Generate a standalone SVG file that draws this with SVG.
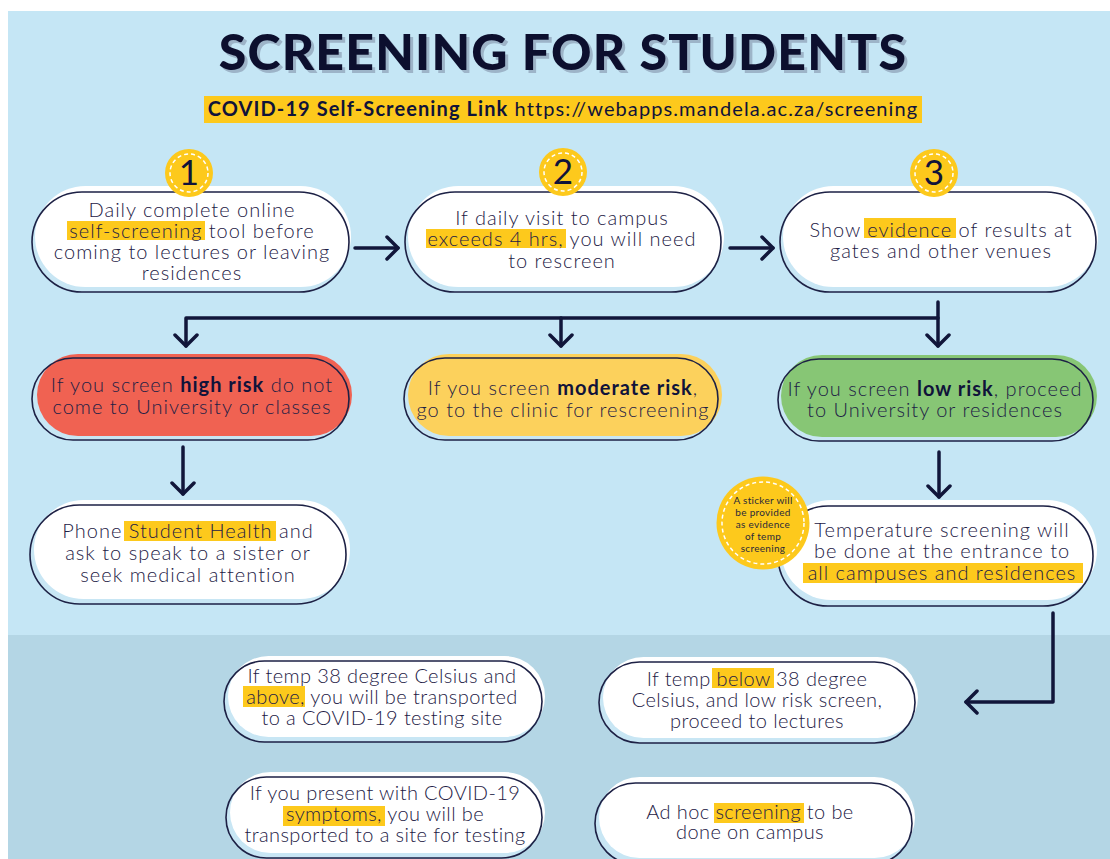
<svg xmlns="http://www.w3.org/2000/svg" width="1110" height="859" viewBox="0 0 1110 859">
<defs>
<style>
.t{font-family:Lato,"Noto Sans","Liberation Sans",sans-serif;font-size:20px;font-weight:300;fill:#1d2045;text-anchor:middle;letter-spacing:1px}
.s{letter-spacing:0.4px}
.b{font-weight:700;fill:#10133a}
.title{font-family:Lato,"Noto Sans","Liberation Sans",sans-serif;font-size:50px;font-weight:900;text-anchor:middle;letter-spacing:1.2px}
.num{font-family:Lato,"Noto Sans","Liberation Sans",sans-serif;font-size:35px;font-weight:400;fill:#10133a;text-anchor:middle}
.sm{font-family:Lato,"Noto Sans","Liberation Sans",sans-serif;font-size:10px;fill:#2a2a3a;text-anchor:middle;letter-spacing:0.3px}
.sh{fill:#c8e6f4}
.ol{fill:none;stroke:#1d2145;stroke-width:1.6}
.hl{fill:#fdc91c}
.w{fill:#ffffff}
.badge{fill:#fdc91c}
.dash{fill:none;stroke:#ffffff;stroke-width:1.5;stroke-dasharray:4 3}
.c{fill:none;stroke:#11163a;stroke-width:3.5;stroke-linecap:round;stroke-linejoin:round}
</style>
<marker id="ah" viewBox="0 0 26 26" refX="22" refY="13" markerWidth="26" markerHeight="26" markerUnits="userSpaceOnUse" orient="auto">
<path d="M11,2 L22,13 L11,24" fill="none" stroke="#11163a" stroke-width="3.5" stroke-linecap="round" stroke-linejoin="round"/>
</marker>
</defs>
<rect x="0" y="0" width="1110" height="859" fill="#ffffff"/>
<rect x="8" y="11" width="1102" height="624" fill="#c5e6f5"/>
<rect x="8" y="635" width="1102" height="224" fill="#b4d6e5"/>

<g id="title">
<text class="title" x="566" y="73" fill="#9db4c8">SCREENING FOR STUDENTS</text>
<text class="title" x="563" y="70" fill="#0c0f2e">SCREENING FOR STUDENTS</text>
</g>
<g id="link">
<rect class="hl" x="204" y="96" width="718" height="27"/>
<text class="t" x="563" y="116" style="fill:#10133a;letter-spacing:1.1px;font-weight:400"><tspan font-weight="700">COVID-19 Self-Screening Link</tspan> https://webapps.mandela.ac.za/screening</text>
</g>

<g id="connectors">
<path class="c" d="M355,248 H398" marker-end="url(#ah)"/>
<path class="c" d="M730,248 H773" marker-end="url(#ah)"/>
<path class="c" d="M938,302 V346" marker-end="url(#ah)"/>
<path class="c" d="M938,318 H186 V346" marker-end="url(#ah)"/>
<path class="c" d="M561,318 V346" marker-end="url(#ah)"/>
<path class="c" d="M183,447 V494" marker-end="url(#ah)"/>
<path class="c" d="M939,452 V497" marker-end="url(#ah)"/>
<path class="c" d="M1053,613 V702 H966" marker-end="url(#ah)"/>
</g>

<g id="step1">
<rect class="sh" x="32" y="192" width="317" height="100" rx="50"/>
<rect class="w" x="35" y="186" width="316" height="101" rx="50.5"/>
<rect class="ol" x="32" y="192" width="317" height="100" rx="50"/>
<rect class="hl" x="67" y="221" width="138" height="19"/>
<text class="t" x="192" y="217">Daily complete online</text>
<text class="t" x="192" y="238">self-screening tool before</text>
<text class="t" x="192" y="259">coming to lectures or leaving</text>
<text class="t" x="192" y="280">residences</text>
<circle class="badge" cx="189" cy="173" r="24"/>
<circle class="dash" cx="189" cy="173" r="19"/>
<text class="num" x="189" y="185">1</text>
</g>

<g id="step2">
<rect class="sh" x="405" y="192" width="316" height="100" rx="50"/>
<rect class="w" x="408" y="186" width="316" height="101" rx="50.5"/>
<rect class="ol" x="405" y="192" width="316" height="100" rx="50"/>
<rect class="hl" x="426" y="229" width="140" height="19"/>
<text class="t" x="562" y="225">If daily visit to campus</text>
<text class="t" x="562" y="246">exceeds 4 hrs, you will need</text>
<text class="t" x="562" y="268">to rescreen</text>
<circle class="badge" cx="563" cy="172" r="24"/>
<circle class="dash" cx="563" cy="172" r="19"/>
<text class="num" x="563" y="184">2</text>
</g>

<g id="step3">
<rect class="sh" x="780" y="192" width="316" height="100" rx="50"/>
<rect class="w" x="783" y="186" width="315" height="101" rx="50.5"/>
<rect class="ol" x="780" y="192" width="316" height="100" rx="50"/>
<rect class="hl" x="864" y="218" width="92" height="20"/>
<text class="t" x="941" y="237">Show evidence of results at</text>
<text class="t" x="941" y="258">gates and other venues</text>
<circle class="badge" cx="934" cy="173" r="24"/>
<circle class="dash" cx="934" cy="173" r="19"/>
<text class="num" x="934" y="185">3</text>
</g>

<g id="high-risk">
<rect class="sh" x="32" y="358" width="317" height="82" rx="41"/>
<rect x="37" y="354" width="315" height="82" rx="41" fill="#f06252"/>
<rect class="ol" x="32" y="358" width="317" height="82" rx="41"/>
<text class="t" x="192" y="392">If you screen <tspan class="b">high risk</tspan> do not</text>
<text class="t" x="192" y="414">come to University or classes</text>
</g>

<g id="moderate-risk">
<rect class="sh" x="404" y="358" width="314" height="82" rx="41"/>
<rect x="408" y="354" width="314" height="82" rx="41" fill="#fcd15c"/>
<rect class="ol" x="404" y="358" width="314" height="82" rx="41"/>
<text class="t" x="563" y="395">If you screen <tspan class="b">moderate risk</tspan>,</text>
<text class="t" x="563" y="417">go to the clinic for rescreening</text>
</g>

<g id="low-risk">
<rect class="sh" x="778" y="359" width="315" height="82" rx="41"/>
<rect x="781" y="355" width="316" height="82" rx="41" fill="#87c675"/>
<rect class="ol" x="778" y="359" width="315" height="82" rx="41"/>
<text class="t" x="935" y="396">If you screen <tspan class="b">low risk</tspan>, proceed</text>
<text class="t" x="935" y="417">to University or residences</text>
</g>

<g id="phone">
<rect class="sh" x="30" y="505" width="316" height="99" rx="49.5"/>
<rect class="w" x="34" y="500" width="316" height="99" rx="49.5"/>
<rect class="ol" x="30" y="505" width="316" height="99" rx="49.5"/>
<rect class="hl" x="124" y="521" width="152" height="20"/>
<text class="t" x="188" y="538">Phone Student Health and</text>
<text class="t" x="188" y="560">ask to speak to a sister or</text>
<text class="t" x="188" y="582">seek medical attention</text>
</g>

<g id="temperature">
<rect class="sh" x="778" y="506" width="315" height="100" rx="50"/>
<rect class="w" x="781" y="500" width="316" height="100" rx="50"/>
<rect class="ol" x="778" y="506" width="315" height="100" rx="50"/>
<rect class="hl" x="803" y="563" width="280" height="20"/>
<text class="t" x="942" y="537">Temperature screening will</text>
<text class="t" x="942" y="558">be done at the entrance to</text>
<text class="t" x="942" y="580">all campuses and residences</text>
</g>

<g id="sticker">
<circle class="badge" cx="763" cy="523" r="46.5"/>
<circle class="dash" cx="763" cy="523" r="41" stroke-width="2" stroke-dasharray="6 4"/>
<text class="sm" x="763" y="504">A sticker will</text>
<text class="sm" x="763" y="516">be provided</text>
<text class="sm" x="763" y="528">as evidence</text>
<text class="sm" x="763" y="540">of temp</text>
<text class="sm" x="763" y="552">screening</text>
</g>

<g id="temp-above">
<rect class="sh" x="224" y="661" width="318" height="81" rx="40.5"/>
<rect class="w" x="228" y="656" width="317" height="81" rx="40.5"/>
<rect class="ol" x="224" y="661" width="318" height="81" rx="40.5"/>
<rect class="hl" x="243" y="686" width="62" height="21"/>
<text class="t s" x="382" y="683">If temp 38 degree Celsius and</text>
<text class="t s" x="382" y="704">above, you will be transported</text>
<text class="t s" x="382" y="725">to a COVID-19 testing site</text>
</g>

<g id="symptoms">
<rect class="sh" x="226" y="777" width="316" height="81" rx="40.5"/>
<rect class="w" x="230" y="772" width="315" height="81" rx="40.5"/>
<rect class="ol" x="226" y="777" width="316" height="81" rx="40.5"/>
<rect class="hl" x="283" y="806" width="102" height="20"/>
<text class="t s" x="385" y="800">If you present with COVID-19</text>
<text class="t s" x="385" y="821">symptoms, you will be</text>
<text class="t s" x="385" y="842">transported to a site for testing</text>
</g>

<g id="temp-below">
<rect class="sh" x="599" y="662" width="316" height="81" rx="40.5"/>
<rect class="w" x="603" y="657" width="315" height="81" rx="40.5"/>
<rect class="ol" x="599" y="662" width="316" height="81" rx="40.5"/>
<rect class="hl" x="712" y="668" width="62" height="20"/>
<text class="t s" x="757" y="686">If temp below 38 degree</text>
<text class="t s" x="757" y="707">Celsius, and low risk screen,</text>
<text class="t s" x="757" y="728">proceed to lectures</text>
</g>

<g id="adhoc">
<rect class="sh" x="595" y="783" width="317" height="81" rx="40.5"/>
<rect class="w" x="599" y="777" width="316" height="81" rx="40.5"/>
<rect class="ol" x="595" y="783" width="317" height="81" rx="40.5"/>
<rect class="hl" x="714" y="803" width="90" height="20"/>
<text class="t s" x="750" y="819">Ad hoc screening to be</text>
<text class="t s" x="750" y="839">done on campus</text>
</g>
</svg>
